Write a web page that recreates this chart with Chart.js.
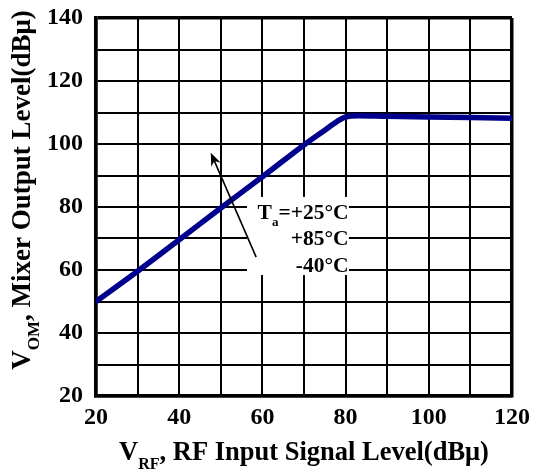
<!DOCTYPE html>
<html>
<head>
<meta charset="utf-8">
<script src="https://cdn.jsdelivr.net/npm/chart.js@4.4.0/dist/chart.umd.min.js"></script>
<style>
  body { margin: 0; background: #fff; }
  #wrap { width: 533px; height: 473px; }
</style>
</head>
<body>
<div id="wrap"><canvas id="myChart" width="533" height="473"></canvas></div>
<script>
// curve (the three temperature curves lie on top of each other)
var rfInput = [20, 30, 40, 50, 60, 70, 75, 78, 80, 83, 90, 100, 110, 120];
var mixerOut = [50, 59.6, 69.6, 79.7, 89.6, 99.7, 104.4, 107.2, 108.6, 109, 108.8, 108.6, 108.4, 108.2];
var xTickLabels = [20, 40, 60, 80, 100, 120];
var yTickLabels = [20, 40, 60, 80, 100, 120, 140];
var tempLabels = ['=+25°C', '+85°C', '-40°C'];

var serif = "'Liberation Serif', 'Times New Roman', serif";

// draws text with subscript parts, returns width
function richText(ctx, parts, x, y, align, size) {
	var big = 'bold ' + size + 'px ' + serif;
	var small = 'bold ' + Math.round(size * 0.62) + 'px ' + serif;
	var w = 0;
	parts.forEach(function (p) {
		ctx.font = p.sub ? small : big;
		w += ctx.measureText(p.t).width;
	});
	var cx = align === 'right' ? x - w : (align === 'center' ? x - w / 2 : x);
	ctx.textAlign = 'left';
	ctx.textBaseline = 'alphabetic';
	parts.forEach(function (p) {
		ctx.font = p.sub ? small : big;
		ctx.fillText(p.t, cx, y + (p.sub ? size * 0.35 : 0));
		cx += ctx.measureText(p.t).width;
	});
	return w;
}

// note box, legend text and arrow
var notePlugin = {
	id: 'notes',
	afterDatasetsDraw: function (chart) {
		var ctx = chart.ctx, xs = chart.scales.x, ys = chart.scales.y;
		ctx.save();
		ctx.fillStyle = '#fff';
		var bx = xs.getPixelForValue(56.3), bx2 = xs.getPixelForValue(80.8);
		var by = ys.getPixelForValue(83.2), by2 = ys.getPixelForValue(58.4);
		ctx.fillRect(bx, by, bx2 - bx, by2 - by);

		ctx.fillStyle = '#000';
		var rx = xs.getPixelForValue(80.7), base = ys.getPixelForValue(76.3);
		richText(ctx, [{t: 'T'}, {t: 'a', sub: true}, {t: tempLabels[0]}], rx, base, 'right', 21.5);
		richText(ctx, [{t: tempLabels[1]}], rx, base + 26.5, 'right', 21.5);
		richText(ctx, [{t: tempLabels[2]}], rx, base + 53, 'right', 21.5);

		// arrow
		var tx = xs.getPixelForValue(58.5), ty = ys.getPixelForValue(64.1);
		var hx = xs.getPixelForValue(47.6), hy = ys.getPixelForValue(97.2);
		var ang = Math.atan2(hy - ty, hx - tx);
		ctx.strokeStyle = '#000';
		ctx.lineWidth = 1.6;
		ctx.beginPath();
		ctx.moveTo(tx, ty);
		ctx.lineTo(hx - 8 * Math.cos(ang), hy - 8 * Math.sin(ang));
		ctx.stroke();
		ctx.beginPath();
		ctx.moveTo(hx, hy);
		ctx.lineTo(hx - 14 * Math.cos(ang - 0.38), hy - 14 * Math.sin(ang - 0.38));
		ctx.lineTo(hx - 9 * Math.cos(ang), hy - 9 * Math.sin(ang));
		ctx.lineTo(hx - 14 * Math.cos(ang + 0.38), hy - 14 * Math.sin(ang + 0.38));
		ctx.closePath();
		ctx.fill();
		ctx.restore();
	},
	afterDraw: function (chart) {
		var ctx = chart.ctx, area = chart.chartArea;
		ctx.save();
		ctx.fillStyle = '#000';
		richText(ctx, [{t: 'V'}, {t: 'RF', sub: true}, {t: ', RF Input Signal Level(dBμ)'}],
			(area.left + area.right) / 2, 460, 'center', 26.5);
		ctx.translate(30, 190);
		ctx.rotate(-Math.PI / 2);
		richText(ctx, [{t: 'V'}, {t: 'OM', sub: true}, {t: ', Mixer Output Level(dBμ)'}], 0, 0, 'center', 27);
		ctx.restore();
	}
};

var ctx = document.getElementById('myChart').getContext('2d');
var chart = new Chart(ctx, {
	type: 'scatter',
	data: {
		datasets: [{
			label: 'VOM',
			data: rfInput.map(function (x, i) { return {x: x, y: mixerOut[i]}; }),
			showLine: true,
			borderColor: '#00008c',
			backgroundColor: '#00008c',
			borderWidth: 5.5,
			pointRadius: 0,
			cubicInterpolationMode: 'monotone',
			borderCapStyle: 'round'
		}]
	},
	options: {
		responsive: false,
		animation: false,
		layout: { padding: { left: 0, top: 18, right: 21, bottom: 0 } },
		plugins: { legend: { display: false }, tooltip: { enabled: false } },
		scales: {
			x: {
				type: 'linear',
				min: 20, max: 120,
				afterFit: function (s) {
					s.height = 77;
					s.paddingLeft = 0;
					s.paddingRight = 0;
				},
				ticks: {
					stepSize: 10,
					autoSkip: false,
					maxRotation: 0,
					padding: 7,
					color: '#000',
					font: { family: serif, size: 24, weight: 'bold' },
					callback: function (v) { return xTickLabels.indexOf(v) >= 0 ? v : ''; }
				},
				grid: {
					color: '#000',
					lineWidth: function (c) { return (c.tick && (c.tick.value === 120 || c.tick.value === 20)) ? 3.5 : 2; },
					drawTicks: false
				},
				border: { display: true, color: '#000', width: 3.5 }
			},
			y: {
				min: 20, max: 140,
				afterFit: function (s) {
					s.width = 96;
					s.paddingTop = 0;
					s.paddingBottom = 0;
				},
				ticks: {
					stepSize: 10,
					autoSkip: false,
					padding: 13,
					color: '#000',
					font: { family: serif, size: 24, weight: 'bold' },
					callback: function (v) { return yTickLabels.indexOf(v) >= 0 ? v : ''; }
				},
				grid: {
					color: '#000',
					lineWidth: function (c) { return (c.tick && (c.tick.value === 140 || c.tick.value === 20)) ? 3.5 : 2; },
					drawTicks: false
				},
				border: { display: true, color: '#000', width: 3.5 }
			}
		}
	},
	plugins: [notePlugin]
});
</script>
</body>
</html>
